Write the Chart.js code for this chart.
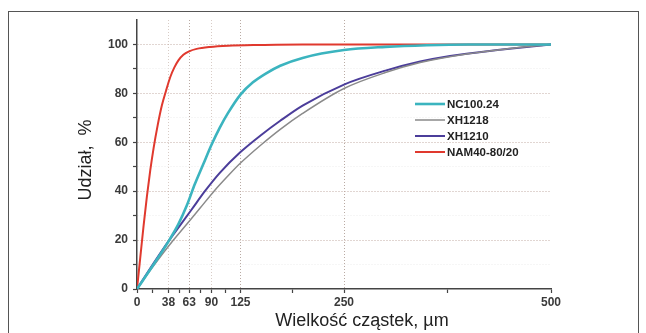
<!DOCTYPE html>
<html>
<head>
<meta charset="utf-8">
<script src="https://cdn.jsdelivr.net/npm/chart.js@4/dist/chart.umd.min.js"></script>
<style>
  html, body { margin: 0; padding: 0; background: #fff; }
  #wrap { width: 646px; height: 333px; }
</style>
</head>
<body>
<div id="wrap"><canvas id="psd" width="646" height="333"></canvas></div>
<script>
// particle size distribution, cumulative share (%) vs size (um)
const seriesNames = ['NC100.24', 'XH1218', 'XH1210', 'NAM40-80/20'];

const sizeNC  = [0, 20, 39, 50, 60, 70, 80, 90, 100, 110, 125, 140, 155, 173, 200, 250, 300, 350, 400, 500];
const shareNC = [0, 10, 20, 26.5, 34, 43, 51, 59, 66, 72, 79.5, 84.5, 88, 91.3, 94.5, 97.7, 99, 99.7, 100, 100];

const sizeXH1218  = [0, 20, 44, 60, 76, 93, 110, 125, 150, 173, 200, 250, 300, 342, 400, 450, 500];
const shareXH1218 = [0, 9.5, 20, 26.5, 33, 40, 46.3, 51.5, 59, 65.3, 71.8, 82, 88.5, 92.6, 96.2, 98.3, 100];

const sizeXH1210  = [0, 20, 39, 52, 66, 82, 100, 125, 150, 173, 200, 250, 300, 342, 378, 438, 500];
const shareXH1210 = [0, 10.5, 20, 26, 32.5, 40, 47.5, 56, 63, 68.8, 75, 83.6, 89.3, 93, 95.3, 97.8, 100];

const sizeNAM  = [0, 4, 8, 12, 16, 20, 25, 30, 35, 40, 45, 50, 56, 63, 72, 88, 110, 150, 200, 500];
const shareNAM = [0, 13, 26, 38, 48.5, 57.5, 67, 75, 81, 86.5, 90.5, 93.5, 95.8, 97.2, 98.2, 99, 99.5, 99.8, 100, 100];

const xTickLabels = [0, 38, 63, 90, 125, 250, 500];
const xMinorTicks = [19, 51, 77, 107, 188, 375];
const yTickLabels = [0, 20, 40, 60, 80, 100];

const colors = ['#3bb4bf', '#8a8a8a', '#4b3d9a', '#e0392e'];
const widths = [2.6, 1.5, 2, 2];

function pts(xs, ys) {
    return xs.map((x, i) => ({ x: x, y: ys[i] }));
}

const allData = [
    pts(sizeNC, shareNC),
    pts(sizeXH1218, shareXH1218),
    pts(sizeXH1210, shareXH1210),
    pts(sizeNAM, shareNAM)
];

const datasets = seriesNames.map((name, i) => ({
    label: name,
    data: allData[i],
    borderColor: colors[i],
    backgroundColor: colors[i],
    borderWidth: widths[i],
    showLine: true,
    pointRadius: 0,
    cubicInterpolationMode: 'monotone',
    fill: false
}));

// frame, axis titles and legend
const decor = {
    id: 'decor',
    afterDraw(chart) {
        const ctx = chart.ctx;
        ctx.save();
        ctx.strokeStyle = '#555';
        ctx.lineWidth = 1;
        ctx.strokeRect(8.5, 11.5, 630, 340);

        ctx.fillStyle = '#222';
        ctx.font = '18px "Liberation Sans", Arial, sans-serif';
        ctx.textAlign = 'center';
        ctx.textBaseline = 'middle';
        ctx.fillText('Wielkość cząstek, µm', 362, 321);

        ctx.translate(86, 160);
        ctx.rotate(-Math.PI / 2);
        ctx.fillText('Udział,  %', 0, 0);
        ctx.restore();

        ctx.save();
        ctx.font = 'bold 11.5px "Liberation Sans", Arial, sans-serif';
        ctx.textBaseline = 'middle';
        ctx.textAlign = 'left';
        chart.data.datasets.forEach((ds, i) => {
            const y = 104 + i * 16;
            ctx.strokeStyle = ds.borderColor;
            ctx.lineWidth = ds.borderWidth;
            ctx.beginPath();
            ctx.moveTo(415, y);
            ctx.lineTo(445, y);
            ctx.stroke();
            ctx.fillStyle = '#222';
            ctx.fillText(ds.label, 447, y + 0.5);
        });
        ctx.restore();
    }
};

const tickFont = { family: '"Liberation Sans", Arial, sans-serif', size: 12, weight: 'bold' };

new Chart(document.getElementById('psd'), {
    type: 'scatter',
    data: { datasets: datasets },
    options: {
        responsive: false,
        animation: false,
        layout: { padding: { left: 100, right: 95, top: 20, bottom: 0 } },
        plugins: { legend: { display: false }, tooltip: { enabled: false } },
        scales: {
            x: {
                type: 'linear',
                min: 0,
                max: 500,
                afterFit(scale) { scale.height = 44; },
                afterBuildTicks(scale) {
                    scale.ticks = xTickLabels.concat(xMinorTicks)
                        .sort((a, b) => a - b)
                        .map(v => ({ value: v }));
                },
                ticks: {
                    autoSkip: false,
                    maxRotation: 0,
                    padding: 2,
                    color: '#3a3a3a',
                    font: tickFont,
                    callback: (v) => xTickLabels.includes(v) ? String(v) : ''
                },
                grid: {
                    color: (c) => {
                        const v = c.tick && c.tick.value;
                        if ([63, 125, 250].includes(v)) return '#b9aaa3';
                        if ([38, 90].includes(v)) return '#d8ccc6';
                        return 'rgba(0,0,0,0)';
                    },
                    lineWidth: 1,
                    tickColor: '#444',
                    tickLength: 4,
                    tickWidth: 1.2
                },
                border: { display: true, color: '#444', width: 1.5, dash: [1, 2] }
            },
            y: {
                min: 0,
                max: 110,
                afterFit(scale) { scale.width = 37; },
                afterBuildTicks(scale) {
                    const t = [];
                    for (let v = 0; v <= 100; v += 10) t.push({ value: v });
                    scale.ticks = t;
                },
                ticks: {
                    padding: 5,
                    color: '#3a3a3a',
                    font: tickFont,
                    callback: (v) => yTickLabels.includes(v) ? String(v) : ''
                },
                grid: {
                    color: (c) => {
                        const v = c.tick && c.tick.value;
                        if (v === 0) return 'rgba(0,0,0,0)';
                        if (v % 20 === 0) return '#c2aca4';
                        return '#ececec';
                    },
                    lineWidth: 1,
                    tickColor: '#444',
                    tickLength: 4,
                    tickWidth: 1.2
                },
                border: { display: true, color: '#444', width: 1.5, dash: [1, 2] }
            }
        }
    },
    plugins: [decor]
});
</script>
</body>
</html>
